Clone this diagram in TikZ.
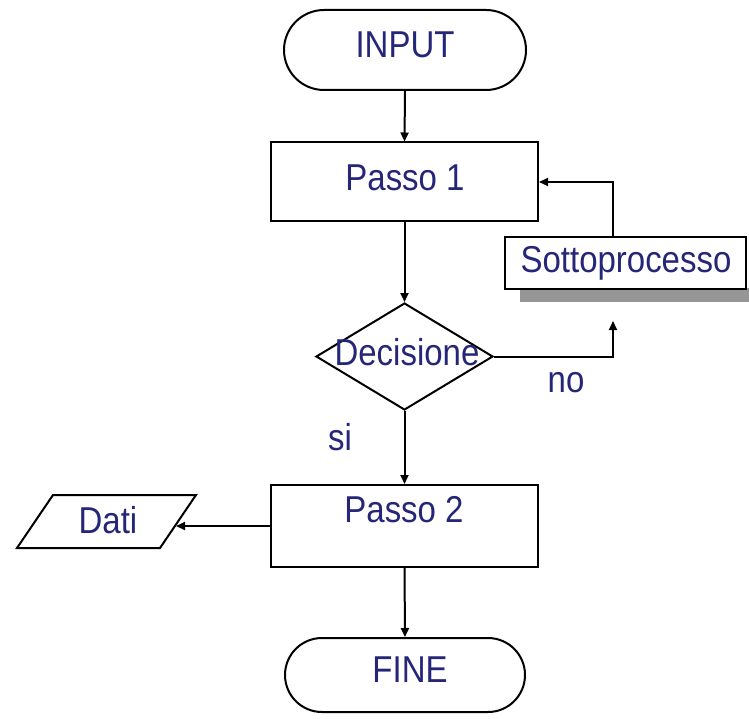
\documentclass[tikz,border=0pt]{standalone}
\usepackage{fontspec}
\setmainfont{Liberation Sans}
\usetikzlibrary{shapes.geometric,shapes.misc,arrows.meta}
\definecolor{txtblue}{RGB}{38,38,120}
\definecolor{shadowgray}{RGB}{150,150,150}
\newcommand{\tallt}[1]{\scalebox{0.97}[1.1]{#1}}
\begin{document}
\begin{tikzpicture}[x=1pt,y=-1pt,
  line width=2pt,
  lbl/.style={text=txtblue,font=\fontsize{34}{40}\selectfont,inner sep=0pt},
  term/.style={draw,rounded rectangle,minimum width=242pt,minimum height=80pt,inner sep=0pt},
  procbox/.style={draw,rectangle,minimum width=267pt,minimum height=79pt,inner sep=0pt},
  arr/.style={-{Triangle[length=9pt,width=8pt]}}]
\useasboundingbox (0,0) rectangle (749,719);
\clip (0,0) rectangle (749,719);
% terminals and steps
\node[term] (input) at (405,50) {};
\node[lbl] (inputtxt) at (405,45) {\tallt{INPUT}};
\node[procbox] (p1) at (404.5,182) {};
\node[lbl] (p1txt) at (405,178) {\tallt{Passo 1}};
\node[draw,diamond,minimum width=177pt,minimum height=107pt,inner sep=0pt,aspect=1.65] (dec) at (404.5,356.5) {};
\node[lbl] (dectxt) at (407,352) {\tallt{Decisione}};
\node[procbox,minimum height=82pt] (p2) at (404.5,526) {};
\node[lbl] (p2txt) at (404,510) {\tallt{Passo 2}};
\node[term,minimum height=74pt,minimum width=240pt] (fine) at (405,675) {};
\node[lbl] (finetxt) at (410,670) {\tallt{FINE}};
% sottoprocesso with shadow
\fill[shadowgray] (520,288) rectangle (760,302);
\node[draw,fill=white,rectangle,minimum width=241pt,minimum height=52pt,inner sep=0pt] (sub) at (625.5,263) {};
\node[lbl] (subtxt) at (626,263) {\tallt{Sottoprocesso}};
% dati parallelogram
\draw (53,495) -- (196,495) -- (160,548) -- (17,548) -- cycle;
\node[lbl] (datitxt) at (108,520) {\tallt{Dati}};
\coordinate (datir) at (176,526);
% labels
\node[lbl] (si) at (340,437) {\tallt{si}};
\node[lbl] (no) at (566,383) {\tallt{no}};
% connectors
\draw[arr] (input.south) -- (p1.north);
\draw[arr] (p1.south) -- (dec.north);
\draw[arr] (dec.south) -- (p2.north);
\draw[arr] (p2.south) -- (fine.north);
\draw[arr] (p2.west) -- (datir);
\coordinate (noup) at (613,321);
\draw[arr] (dec.east) -| (noup);
\draw[arr] (sub.north -| noup) |- (p1.east);
\end{tikzpicture}
\end{document}
